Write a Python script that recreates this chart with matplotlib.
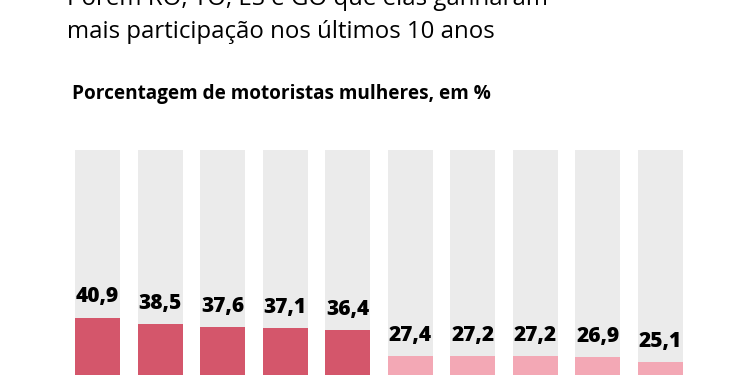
import matplotlib
matplotlib.use("Agg")
import matplotlib.pyplot as plt

# Porcentagem de motoristas mulheres
values = [40.9, 38.5, 37.6, 37.1, 36.4, 27.4, 27.2, 27.2, 26.9, 25.1]
highlight = [True, True, True, True, True, False, False, False, False, False]

title_lines = ["Porém RO, TO, ES e GO que elas ganharam",
               "mais participação nos últimos 10 anos"]
subtitle = "Porcentagem de motoristas mulheres, em %"

RED = "#d4566b"
PINK = "#f3a8b5"
GREY = "#ebebeb"

W, H = 750, 375
fig = plt.figure(figsize=(W / 100, H / 100), dpi=100, facecolor="white")

def px(x, y):
    # pixel coords (from top-left) -> figure fraction
    return x / W, 1 - y / H

# eixo vai além da borda de baixo (imagem é recortada)
top_px, zero_px = 150, 433.5
ax = fig.add_axes([75 / W, (H - zero_px) / H, (683 - 75) / W, (zero_px - top_px) / H])
ax.set_facecolor("white")

xs = list(range(len(values)))
width = 0.72
ax.bar(xs, [100] * len(values), width=width, color=GREY, zorder=1)
ax.bar(xs, values, width=width, color=[RED if h else PINK for h in highlight], zorder=2)

for x, v in zip(xs, values):
    ax.text(x, v + 3.6, f"{v:.1f}".replace(".", ","), ha="center", va="bottom",
            fontsize=15, fontweight="heavy", family="Open Sans", color="#000000")

ax.set_xlim(-width / 2, len(values) - 1 + width / 2)
ax.set_ylim(0, 100)
ax.axis("off")

for line, y in zip(title_lines, (5, 38)):
    fig.text(*px(67, y), line, ha="left", va="baseline", fontsize=17.3,
             family="Open Sans", color="#000000")

fig.text(*px(72, 99), subtitle, ha="left", va="baseline", fontsize=13.7,
         fontweight="bold", family="Open Sans", color="#000000")

fig.savefig("out.png", dpi=100, facecolor="white")
plt.close(fig)
